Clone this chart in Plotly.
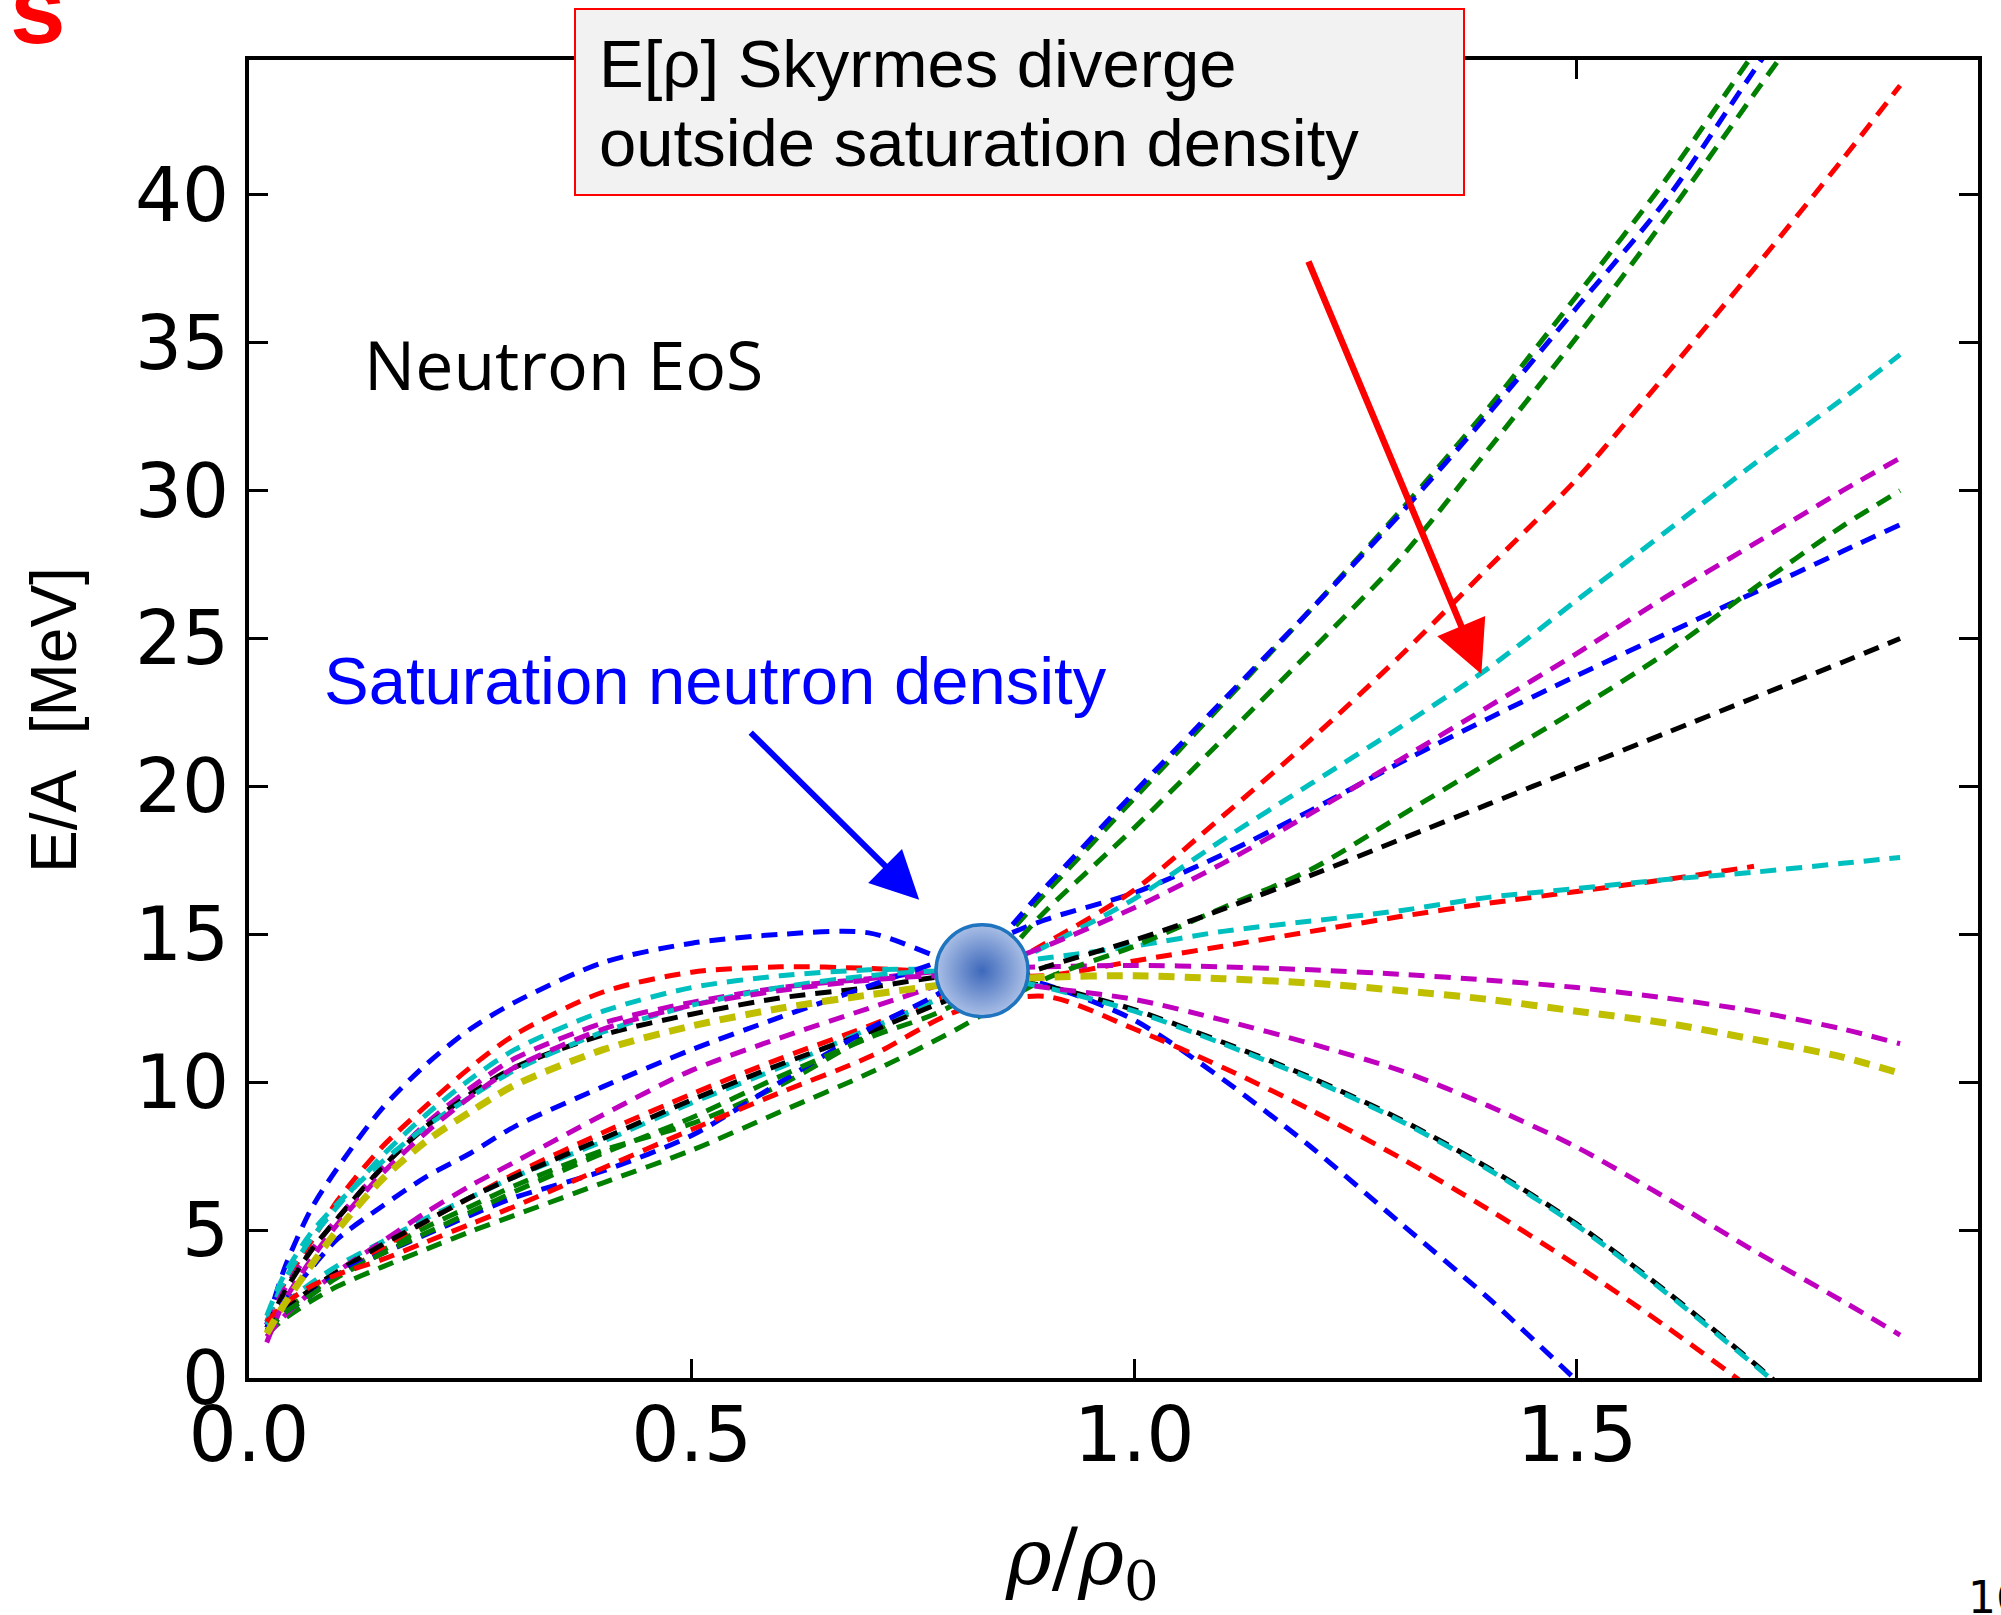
import plotly.graph_objects as go

# density grid rho/rho0 shared by all curves
X = [0.02, 0.04, 0.07, 0.1, 0.15, 0.2, 0.25, 0.3, 0.4, 0.5, 0.6, 0.7, 0.8,
     0.9, 1.0, 1.1, 1.2, 1.3, 1.4, 1.5, 1.6, 1.7, 1.8, 1.865]

# E/A [MeV] of each Skyrme parametrisation
blue_down    = [1.8, 3.7, 5.7, 7.1, 9.1, 10.6, 11.8, 12.7, 14.05, 14.7, 15.0, 15.05, 14.0,
                13.3, 12.1, 10.1, 7.8, 5.25, 2.7, -0.1, -3.0, None, None, None]
blue_mid     = [1.7, 2.6, 3.7, 4.7, 5.8, 6.8, 7.6, 8.5, 9.85, 11.1, 12.2, 13.25, 14.3,
                15.5, 16.4, 17.7, 19.2, 20.8, 22.3, 23.75, 25.15, 26.55, 27.95, 28.85]
blue_steep   = [1.6, 2.2, 2.8, 3.5, 4.2, 4.85, 5.5, 6.1, 7.0, 8.2, 10.0, 11.8, 13.4,
                16.6, 19.8, 22.9, 26.0, 29.2, 32.6, 36.2, 39.8, 44.2, 48.5, 51.5]
red_flat     = [1.9, 3.2, 4.6, 6.0, 7.8, 9.2, 10.5, 11.6, 13.05, 13.72, 13.9, 13.85, 13.7,
                13.6, 14.1, 14.6, 15.1, 15.6, 16.05, 16.45, 16.85, 17.3, None, None]
red_steep    = [1.6, 2.2, 2.9, 3.5, 4.4, 5.3, 6.1, 6.9, 8.3, 9.6, 10.8, 11.9, 13.1,
                14.7, 16.5, 19.0, 21.6, 24.4, 27.4, 30.4, 33.9, 37.5, 41.2, 43.7]
red_down     = [1.9, 2.5, 3.1, 3.5, 4.0, 4.6, 5.2, 5.8, 7.1, 8.4, 9.65, 10.85, 12.4,
                12.9, 11.8, 10.5, 9.05, 7.45, 5.7, 3.8, 1.75, -0.45, -2.9, None]
cyan_flat    = [1.9, 3.3, 4.7, 5.8, 7.5, 8.9, 10.1, 11.1, 12.4, 13.2, 13.6, 13.8, 13.85,
                14.2, 14.6, 15.1, 15.45, 15.8, 16.25, 16.55, 16.85, 17.1, 17.4, 17.6]
cyan_upper   = [1.8, 2.5, 3.2, 3.8, 4.6, 5.4, 6.1, 6.8, 8.0, 9.3, 10.5, 11.8, 13.1,
                14.6, 16.2, 18.2, 20.1, 22.0, 24.0, 26.3, 28.6, 30.9, 33.1, 34.6]
cyan_down    = [2.1, 3.5, 4.9, 5.9, 7.3, 8.5, 9.5, 10.4, 11.7, 12.6, 13.2, 13.6, 13.75,
                13.2, 12.4, 11.3, 10.1, 8.7, 7.05, 5.15, 2.9, 0.45, -2.1, None]
magenta_flat = [1.8, 3.0, 4.3, 5.4, 7.1, 8.6, 9.8, 10.8, 12.0, 12.7, 13.2, 13.5, 13.8,
                13.9, 13.95, 13.9, 13.8, 13.65, 13.45, 13.2, 12.85, 12.4, 11.8, 11.3]
magenta_up   = [1.4, 2.1, 2.9, 3.6, 4.6, 5.6, 6.5, 7.3, 8.9, 10.4, 11.5, 12.5, 13.5,
                14.6, 15.9, 17.4, 19.1, 20.9, 22.7, 24.5, 26.4, 28.2, 30.0, 31.1]
magenta_down = [1.2, 2.6, 4.0, 5.2, 6.9, 8.3, 9.5, 10.5, 11.8, 12.6, 13.1, 13.45, 13.6,
                13.2, 12.8, 12.1, 11.3, 10.4, 9.2, 7.8, 6.1, 4.3, 2.6, 1.45]
black_down   = [1.7, 2.9, 4.3, 5.4, 7.1, 8.5, 9.6, 10.5, 11.6, 12.3, 12.85, 13.2, 13.6,
                13.25, 12.45, 11.35, 10.15, 8.75, 7.1, 5.2, 2.95, 0.5, -2.1, None]
black_up     = [1.6, 2.3, 3.0, 3.6, 4.5, 5.3, 6.1, 6.8, 8.1, 9.4, 10.6, 11.7, 12.9,
                13.9, 14.8, 15.85, 17.0, 18.2, 19.4, 20.6, 21.8, 23.0, 24.2, 25.0]
yellow       = [1.5, 2.5, 3.8, 5.0, 6.7, 8.0, 9.0, 9.9, 11.1, 11.9, 12.5, 12.95, 13.35,
                13.55, 13.6, 13.5, 13.35, 13.1, 12.8, 12.4, 12.0, 11.45, 10.85, 10.3]
green_steepA = [1.7, 2.3, 2.9, 3.5, 4.3, 5.1, 5.8, 6.5, 7.7, 8.6, 9.9, 11.6, 13.3,
                16.4, 19.6, 22.8, 26.0, 29.3, 32.8, 36.6, 40.5, 44.8, 49.0, 52.0]
green_steepB = [1.6, 2.2, 2.8, 3.4, 4.2, 4.9, 5.6, 6.3, 7.6, 8.8, 10.2, 11.5, 12.7,
                15.8, 18.6, 21.6, 24.6, 27.7, 31.4, 35.2, 39.2, 43.4, 47.6, 50.5]
green_mid    = [1.5, 2.0, 2.6, 3.1, 3.75, 4.35, 4.95, 5.5, 6.6, 7.7, 9.0, 10.3, 11.8,
                13.5, 14.6, 15.9, 17.2, 19.0, 20.8, 22.6, 24.5, 26.7, 28.8, 30.0]

# saturation point
sat_x = [0.828]
sat_y = [13.77]

X_TICKS = [0.0, 0.5, 1.0, 1.5]
X_TICKTEXT = ["0.0", "0.5", "1.0", "1.5"]
Y_TICKS = [0, 5, 10, 15, 20, 25, 30, 35, 40]

B, G, R, C, M, Y, K = "#0000ff", "#007f00", "#ff0000", "#00bfbf", "#bf00bf", "#bfbf00", "#000000"

series = [
    (blue_down, B), (green_steepA, G), (red_flat, R), (cyan_flat, C), (magenta_flat, M),
    (black_down, K), (blue_mid, B), (green_mid, G), (red_steep, R), (cyan_upper, C),
    (magenta_up, M), (black_up, K), (blue_steep, B), (green_steepB, G), (red_down, R),
    (cyan_down, C), (magenta_down, M), (yellow, Y),
]

fig = go.Figure()
for ys, col in series:
    w = 7 if col == Y else 5
    fig.add_trace(go.Scatter(
        x=X, y=ys, mode="lines", showlegend=False, hoverinfo="skip",
        line=dict(color=col, width=w, dash="16px,10px", shape="spline", smoothing=0.8),
    ))

fig.add_trace(go.Scatter(
    x=sat_x, y=sat_y, mode="markers", showlegend=False, hoverinfo="skip",
    marker=dict(size=92, color="#aabfe6",
                gradient=dict(type="radial", color="#3d68bb"),
                line=dict(color="#1f74bf", width=3.5)),
))

L, Rm, T, Bm = 249, 23, 60, 237
W, H = 2001, 1615
PW, PH = W - L - Rm, H - T - Bm


def px2paper(xp, yp):
    return (xp - L) / PW, (H - Bm - yp) / PH


ann = []
# y title
x0, y0 = px2paper(54, 720)
ann.append(dict(xref="paper", yref="paper", x=x0, y=y0, text="E/A\u00a0 [MeV]",
                textangle=-90, showarrow=False, xanchor="center", yanchor="middle",
                font=dict(family="Liberation Sans", size=64, color="black")))
# x title
x0, y0 = px2paper(1082, 1562)
ann.append(dict(xref="paper", yref="paper", x=x0, y=y0,
                text="<i>ρ</i>/<i>ρ</i><sub>0</sub>", showarrow=False,
                xanchor="center", yanchor="middle",
                font=dict(family="DejaVu Serif", size=78, color="black")))
# box text (two lines)
x0, y0 = px2paper(597, 63)
ann.append(dict(xref="paper", yref="paper", x=x0, y=y0,
                text="E[ρ] Skyrmes diverge", showarrow=False,
                xanchor="left", yanchor="middle",
                font=dict(family="Liberation Sans", size=67, color="black")))
x0, y0 = px2paper(597, 142)
ann.append(dict(xref="paper", yref="paper", x=x0, y=y0,
                text="outside saturation density", showarrow=False,
                xanchor="left", yanchor="middle",
                font=dict(family="Liberation Sans", size=67, color="black")))
# Neutron EoS
x0, y0 = px2paper(362, 364)
ann.append(dict(xref="paper", yref="paper", x=x0, y=y0, text="Neutron EoS",
                showarrow=False, xanchor="left", yanchor="middle",
                font=dict(family="Open Sans", size=68, color="black")))
# Saturation neutron density
x0, y0 = px2paper(322, 680)
ann.append(dict(xref="paper", yref="paper", x=x0, y=y0, text="Saturation neutron density",
                showarrow=False, xanchor="left", yanchor="middle",
                font=dict(family="Liberation Sans", size=67, color="#0000ff")))
# arrows
ann.append(dict(x=0.757, y=16.17, ax=0.565, ay=21.87, xref="x", yref="y", axref="x", ayref="y",
                text="", showarrow=True, arrowhead=2, arrowsize=1.6, arrowwidth=6,
                arrowcolor="#0000ff", standoff=0))
ann.append(dict(x=1.392, y=23.8, ax=1.196, ay=37.8, xref="x", yref="y", axref="x", ayref="y",
                text="", showarrow=True, arrowhead=2, arrowsize=1.6, arrowwidth=6.5,
                arrowcolor="#ff0000", standoff=0))
# cut-off slide title fragment and page number
x0, y0 = px2paper(8, 66)
ann.append(dict(xref="paper", yref="paper", x=x0, y=y0, text="<b>s</b>", showarrow=False,
                xanchor="left", yanchor="bottom",
                font=dict(family="Liberation Sans", size=100, color="#ff0000")))
x0, y0 = px2paper(1966, 1597)
ann.append(dict(xref="paper", yref="paper", x=x0, y=y0, text="16", showarrow=False,
                xanchor="left", yanchor="middle",
                font=dict(family="DejaVu Sans", size=44, color="black")))

bx0, by0 = px2paper(575, 9)
bx1, by1 = px2paper(1464, 195)
shapes = [dict(type="rect", xref="paper", yref="paper", x0=bx0, y0=by1, x1=bx1, y1=by0,
               fillcolor="#f2f2f2", line=dict(color="#ff0000", width=2), layer="above")]

axis_common = dict(showgrid=False, zeroline=False, showline=True, linewidth=4,
                   linecolor="black", mirror="ticks", ticks="inside", ticklen=19,
                   tickwidth=3, tickcolor="black")

fig.update_layout(
    width=W, height=H, autosize=False,
    margin=dict(l=L, r=Rm, t=T, b=Bm, pad=0),
    paper_bgcolor="white", plot_bgcolor="white",
    xaxis=dict(range=[0, 1.953], tickvals=X_TICKS, ticktext=X_TICKTEXT,
               ticklabelstandoff=-12,
               tickfont=dict(family="DejaVu Sans", size=76, color="black"), **axis_common),
    yaxis=dict(range=[0, 44.56], tickvals=Y_TICKS, ticklabelstandoff=1,
               tickfont=dict(family="DejaVu Sans", size=74, color="black"), **axis_common),
    annotations=ann,
    shapes=shapes,
)

fig.write_html("out.html")
